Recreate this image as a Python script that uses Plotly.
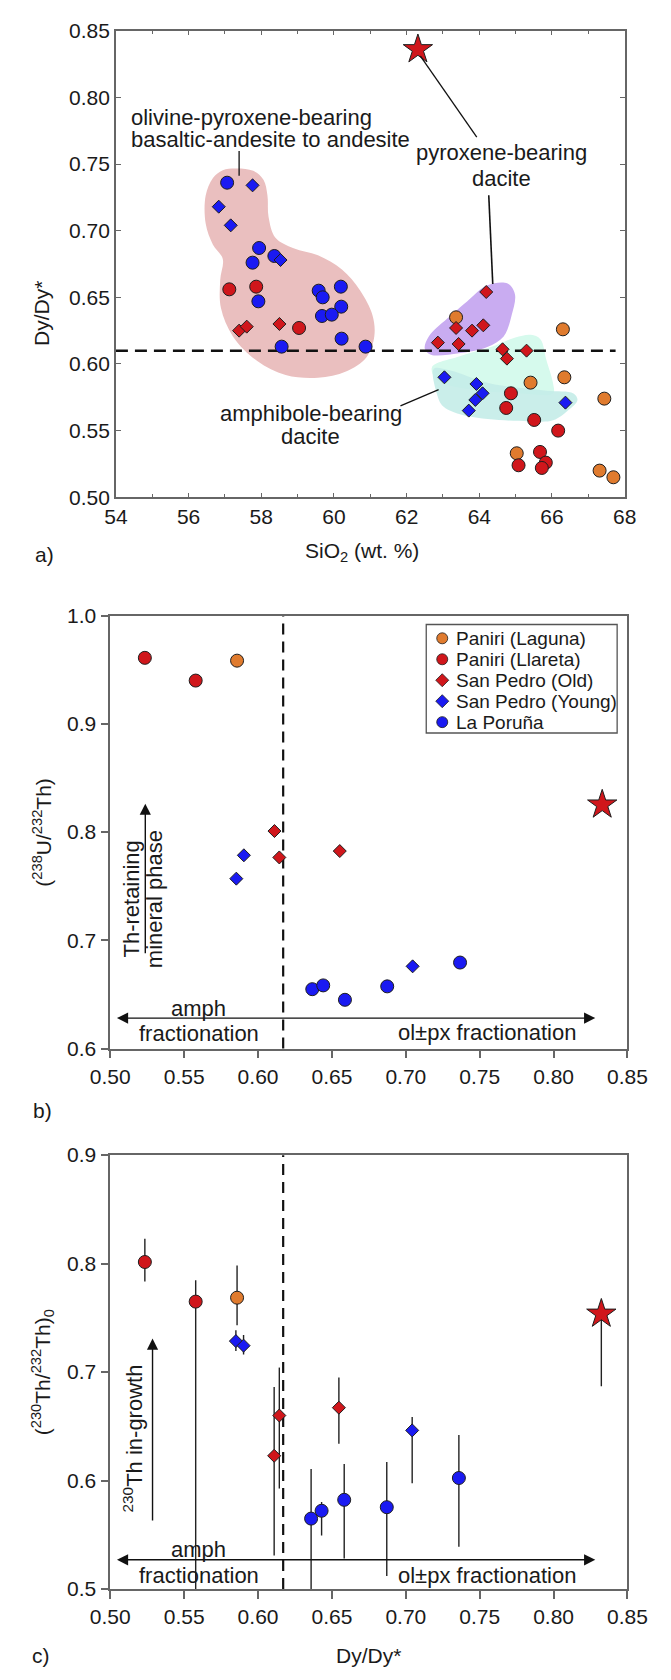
import plotly.graph_objects as go

W, H = 671, 1680
def fx(p): return p / W
def fy(p): return 1 - p / H

FONT = "Liberation Sans, Arial, sans-serif"
TXT = "#1a1a1a"

# ---------------- colours ----------------
C_ORANGE = "#e07b2e"
C_RED = "#d0161b"
C_BLUE = "#1a1af2"
EDGE = "#1e1e1e"

# ---------------- legend ----------------
legend_labels = ["Paniri (Laguna)", "Paniri (Llareta)", "San Pedro (Old)", "San Pedro (Young)", "La Poruña"]
legend_symbols = ["circle", "circle", "diamond", "diamond", "circle"]
legend_colors = [C_ORANGE, C_RED, C_RED, C_BLUE, C_BLUE]

# ---------------- panel a data (SiO2 vs Dy/Dy*) ----------------
laguna_a_x = [63.36, 66.30, 66.34, 65.41, 67.44, 65.03, 67.31, 67.69]
laguna_a_y = [0.635, 0.626, 0.590, 0.586, 0.574, 0.533, 0.520, 0.515]
llareta_a_x = [57.12, 57.86, 59.04, 64.87, 64.74, 65.51, 66.17, 65.67, 65.83, 65.08, 65.72]
llareta_a_y = [0.656, 0.658, 0.627, 0.578, 0.567, 0.558, 0.550, 0.534, 0.526, 0.524, 0.522]
spold_a_x = [57.39, 57.60, 58.50, 64.19, 63.36, 63.80, 64.11, 62.86, 63.43, 64.64, 64.76, 65.30]
spold_a_y = [0.625, 0.628, 0.630, 0.654, 0.627, 0.625, 0.629, 0.616, 0.615, 0.611, 0.604, 0.610]
spyoung_a_x = [57.76, 56.83, 57.16, 58.53, 63.04, 63.92, 64.09, 63.89, 63.71, 66.37]
spyoung_a_y = [0.734, 0.718, 0.704, 0.678, 0.590, 0.585, 0.578, 0.573, 0.565, 0.571]
poruna_a_x = [57.06, 57.94, 57.76, 58.36, 57.92, 59.58, 59.69, 60.19, 60.20, 59.67, 59.94, 60.21, 58.56, 60.87]
poruna_a_y = [0.736, 0.687, 0.676, 0.681, 0.647, 0.655, 0.650, 0.658, 0.643, 0.636, 0.637, 0.619, 0.613, 0.613]
star_a_x = [62.31]
star_a_y = [0.836]
dy_threshold_a = 0.61
dy_line_a_x = [54.0, 67.75]

# field outlines (SiO2, Dy/Dy*)
blob_ol_x = [57.33, 57.78, 58.06, 58.17, 58.20, 58.39, 58.89, 59.56, 60.22, 60.72, 61.06, 61.11, 60.89,
             60.33, 59.56, 58.67, 57.89, 57.22, 56.89, 56.87, 56.94, 56.67, 56.47, 56.47, 56.67, 56.94, 57.33]
blob_ol_y = [0.7467, 0.7449, 0.7383, 0.7264, 0.7105, 0.6947, 0.6868, 0.6815, 0.6709, 0.6551, 0.6366, 0.6207,
             0.6049, 0.5943, 0.5896, 0.5917, 0.6022, 0.6207, 0.6419, 0.6630, 0.6788, 0.6894, 0.7053, 0.7264,
             0.7396, 0.7454, 0.7467]
px_field_x = [62.50, 62.61, 63.11, 63.67, 64.22, 64.78, 64.98, 64.89, 64.67, 64.22, 63.44, 62.67, 62.50]
px_field_y = [0.6115, 0.6207, 0.6339, 0.6471, 0.6590, 0.6603, 0.6524, 0.6366, 0.6207, 0.6128, 0.6081, 0.6070, 0.6115]
amph1_x = [62.70, 63.44, 64.30, 64.99, 65.42, 65.68, 65.85, 66.03, 66.03, 65.16, 63.87, 62.83, 62.70]
amph1_y = [0.5977, 0.6056, 0.6125, 0.6199, 0.6219, 0.6186, 0.6026, 0.5853, 0.5779, 0.5779, 0.5804, 0.5878, 0.5977]
amph2_x = [62.75, 62.83, 63.01, 63.70, 65.34, 66.03, 66.46, 66.70, 66.59, 65.85, 64.30, 63.18, 62.75]
amph2_y = [0.5964, 0.5779, 0.5681, 0.5607, 0.5570, 0.5577, 0.5656, 0.5730, 0.5779, 0.5799, 0.5853, 0.5952, 0.5964]

# ---------------- panel b data (Dy/Dy* vs 238U/232Th) ----------------
laguna_b_x = [0.5858]
laguna_b_y = [0.9584]
llareta_b_x = [0.5234, 0.5578]
llareta_b_y = [0.961, 0.940]
spold_b_x = [0.6111, 0.6144, 0.6553]
spold_b_y = [0.801, 0.7766, 0.7825]
spyoung_b_x = [0.5853, 0.5904, 0.7046]
spyoung_b_y = [0.757, 0.7786, 0.676]
poruna_b_x = [0.6367, 0.6441, 0.6588, 0.6874, 0.7367]
poruna_b_y = [0.6549, 0.6584, 0.6451, 0.6575, 0.6795]
star_b_x = [0.8329]
star_b_y = [0.8253]
dy_threshold_bc = 0.617

# ---------------- panel c data (Dy/Dy* vs (230Th/232Th)0, with bounds) ----------------
laguna_c_x = [0.5858]
laguna_c_y = [0.7686]
laguna_c_hi = [0.7982]
laguna_c_lo = [0.7433]
llareta_c_x = [0.5234, 0.5578]
llareta_c_y = [0.8015, 0.765]
llareta_c_hi = [0.8229, 0.7846]
llareta_c_lo = [0.7836, 0.48]
spold_c_x = [0.6109, 0.6144, 0.6547]
spold_c_y = [0.6229, 0.660, 0.6672]
spold_c_hi = [0.6863, 0.7042, 0.6951]
spold_c_lo = [0.5309, 0.5927, 0.634]
spyoung_c_x = [0.585, 0.5902, 0.7043]
spyoung_c_y = [0.7286, 0.7244, 0.6463]
spyoung_c_hi = [0.7387, 0.7341, 0.6587]
spyoung_c_lo = [0.7195, 0.7163, 0.5976]
poruna_c_x = [0.6359, 0.643, 0.6583, 0.6871, 0.7359]
poruna_c_y = [0.565, 0.5722, 0.5823, 0.5755, 0.6024]
poruna_c_hi = [0.6106, 0.5803, 0.6154, 0.6171, 0.6421]
poruna_c_lo = [0.48, 0.5494, 0.5283, 0.512, 0.539]
star_c_x = [0.8323]
star_c_y = [0.7537]
star_c_hi = [0.765]
star_c_lo = [0.687]

S_CIRC, S_DIAM, S_STAR = 13, 10, 22

fig = go.Figure()

def mk(symbol, color, size):
    return dict(symbol=symbol, color=color, size=size, line=dict(color=EDGE, width=1))

# ---- panel a fields ----
def field(xs, ys, color):
    fig.add_trace(go.Scatter(x=xs, y=ys, mode="lines", fill="toself", fillcolor=color,
                             line=dict(width=0, shape="spline", smoothing=1.0),
                             hoverinfo="skip", showlegend=False, xaxis="x", yaxis="y"))

field(blob_ol_x, blob_ol_y, "rgb(234,191,191)")
field(px_field_x, px_field_y, "rgb(201,172,241)")
field(amph1_x, amph1_y, "rgb(214,250,237)")
field(amph2_x, amph2_y, "rgba(196,236,232,0.9)")

fig.add_trace(go.Scatter(x=dy_line_a_x, y=[dy_threshold_a] * 2, mode="lines",
                         line=dict(color="#111", width=2.5, dash="12px,7px"),
                         hoverinfo="skip", showlegend=False, xaxis="x", yaxis="y"))

# ---- markers, all panels ----
def series(xs, ys, symbol, color, size, ax, err=None):
    kw = {}
    if err is not None:
        hi, lo = err
        kw["error_y"] = dict(type="data", symmetric=False,
                             array=[h - v for h, v in zip(hi, ys)],
                             arrayminus=[v - l for v, l in zip(ys, lo)],
                             color="#222", thickness=1.4, width=0)
    fig.add_trace(go.Scatter(x=xs, y=ys, mode="markers", marker=mk(symbol, color, size),
                             showlegend=False, xaxis="x" + ax, yaxis="y" + ax, **kw))

# panel a
series(laguna_a_x, laguna_a_y, "circle", C_ORANGE, S_CIRC, "")
series(llareta_a_x, llareta_a_y, "circle", C_RED, S_CIRC, "")
series(poruna_a_x, poruna_a_y, "circle", C_BLUE, S_CIRC, "")
series(spold_a_x, spold_a_y, "diamond", C_RED, S_DIAM, "")
series(spyoung_a_x, spyoung_a_y, "diamond", C_BLUE, S_DIAM, "")
series(star_a_x, star_a_y, "star", C_RED, S_STAR, "")

# panel b
series(laguna_b_x, laguna_b_y, "circle", C_ORANGE, S_CIRC, "2")
series(llareta_b_x, llareta_b_y, "circle", C_RED, S_CIRC, "2")
series(poruna_b_x, poruna_b_y, "circle", C_BLUE, S_CIRC, "2")
series(spold_b_x, spold_b_y, "diamond", C_RED, S_DIAM, "2")
series(spyoung_b_x, spyoung_b_y, "diamond", C_BLUE, S_DIAM, "2")
series(star_b_x, star_b_y, "star", C_RED, S_STAR, "2")

# panel c
series(laguna_c_x, laguna_c_y, "circle", C_ORANGE, S_CIRC, "3", err=(laguna_c_hi, laguna_c_lo))
series(llareta_c_x, llareta_c_y, "circle", C_RED, S_CIRC, "3", err=(llareta_c_hi, llareta_c_lo))
series(poruna_c_x, poruna_c_y, "circle", C_BLUE, S_CIRC, "3", err=(poruna_c_hi, poruna_c_lo))
series(spold_c_x, spold_c_y, "diamond", C_RED, S_DIAM, "3", err=(spold_c_hi, spold_c_lo))
series(spyoung_c_x, spyoung_c_y, "diamond", C_BLUE, S_DIAM, "3", err=(spyoung_c_hi, spyoung_c_lo))
series(star_c_x, star_c_y, "star", C_RED, S_STAR, "3", err=(star_c_hi, star_c_lo))

# ---- legend (panel b), drawn in its own pixel-scaled box ----
LEG_L, LEG_R, LEG_T, LEG_B = 432, 635, 621, 731
LEG_ROW0, LEG_DROW, LEG_SYM_X, LEG_TXT_X = 14, 21.25, 17, 29.5
leg_rows = [LEG_ROW0 + i * LEG_DROW for i in range(len(legend_labels))]
for lab, sym, col, ry in zip(legend_labels, legend_symbols, legend_colors, leg_rows):
    fig.add_trace(go.Scatter(x=[LEG_SYM_X], y=[ry], mode="markers",
                             marker=dict(symbol=sym, color=col, size=11 if sym == "circle" else 10,
                                         line=dict(color=EDGE, width=0.8)),
                             showlegend=False, hoverinfo="skip", xaxis="x4", yaxis="y4"))

# ---------------- axes ----------------
FRAME = "#666666"
tickfont = dict(family=FONT, size=21, color=TXT)

axa = dict(showline=True, linecolor=FRAME, linewidth=1.5, mirror="allticks", ticks="inside",
           ticklen=5, tickcolor=FRAME, showgrid=False, zeroline=False, tickfont=tickfont)
axbc = dict(showline=True, linecolor=FRAME, linewidth=1.5, mirror=True, ticks="outside",
            ticklen=8, tickcolor=FRAME, tickwidth=1.5, showgrid=False, zeroline=False, tickfont=tickfont)

layout = dict(
    width=W, height=H, margin=dict(l=0, r=0, t=0, b=0),
    paper_bgcolor="white", plot_bgcolor="white", showlegend=False,
    font=dict(family=FONT, color=TXT, size=21),
    xaxis=dict(axa, domain=[fx(102), fx(643)], range=[54, 68], anchor="y",
               tickmode="array", tickvals=[54, 56, 58, 60, 62, 64, 66, 68],
               minor=dict(ticks="inside", ticklen=4, dtick=1, tick0=54, tickcolor=FRAME, showgrid=False)),
    yaxis=dict(axa, domain=[fy(492), fy(19)], range=[0.5, 0.85], anchor="x",
               dtick=0.05, tick0=0.5, tickformat=".2f"),
    xaxis2=dict(axbc, domain=[fx(96), fx(646)], range=[0.5, 0.85], anchor="y2",
                dtick=0.05, tick0=0.5, tickformat=".2f"),
    yaxis2=dict(axbc, domain=[fy(1051), fy(612)], range=[0.6, 1.0], anchor="x2",
                dtick=0.1, tick0=0.6, tickformat=".1f"),
    xaxis3=dict(axbc, domain=[fx(96), fx(646)], range=[0.5, 0.85], anchor="y3",
                dtick=0.05, tick0=0.5, tickformat=".2f"),
    yaxis3=dict(axbc, domain=[fy(1599), fy(1159)], range=[0.5, 0.9], anchor="x3",
                dtick=0.1, tick0=0.5, tickformat=".1f"),
    xaxis4=dict(domain=[fx(LEG_L), fx(LEG_R)], range=[0, LEG_R - LEG_L], anchor="y4",
                visible=False, fixedrange=True),
    yaxis4=dict(domain=[fy(LEG_B), fy(LEG_T)], range=[LEG_B - LEG_T, 0], anchor="x4",
                visible=False, fixedrange=True),
)
fig.update_layout(**layout)

# ---------------- shapes ----------------
shapes = []
def seg(x0, y0, x1, y1, ax, width=1.3, dash=None, color="#111"):
    shapes.append(dict(type="line", xref="x" + ax, yref="y" + ax, x0=x0, y0=y0, x1=x1, y1=y1,
                       line=dict(color=color, width=width, dash=dash), layer="above"))

seg(57.39, 0.7597, 57.39, 0.7412, "")
seg(62.38, 0.831, 63.93, 0.7701, "")
seg(64.26, 0.7266, 64.37, 0.660, "", width=1.6)
seg(61.83, 0.5686, 62.88, 0.5807, "")
for ax in ("2", "3"):
    shapes.append(dict(type="line", xref="x" + ax, yref="y" + ax + " domain",
                       x0=dy_threshold_bc, x1=dy_threshold_bc, y0=0, y1=1,
                       line=dict(color="#111", width=2.2, dash="11px,7px"), layer="below"))
shapes.append(dict(type="rect", xref="paper", yref="paper",
                   x0=fx(LEG_L), x1=fx(LEG_R), y0=fy(LEG_B), y1=fy(LEG_T),
                   line=dict(color="#555", width=1.3), fillcolor="rgba(0,0,0,0)", layer="above"))
fig.update_layout(shapes=shapes)

# ---------------- annotations ----------------
ann = []
def txt(x, y, s, ax, size=22, angle=0, xanchor="center", xref=None, yref=None):
    ann.append(dict(x=x, y=y, text=s, showarrow=False, textangle=angle, xanchor=xanchor,
                    yanchor="middle", xref=xref or ("x" + ax), yref=yref or ("y" + ax),
                    font=dict(family=FONT, size=size, color=TXT)))

def arrow(x0, y0, x1, y1, ax, both=False):
    ann.append(dict(x=x1, y=y1, ax=x0, ay=y0, xref="x" + ax, yref="y" + ax,
                    axref="x" + ax, ayref="y" + ax, text="", showarrow=True,
                    arrowhead=2, arrowsize=1.6, arrowwidth=1.4, arrowcolor="#111",
                    arrowside="end+start" if both else "end", standoff=0, startstandoff=0))

# legend text
for lab, ry in zip(legend_labels, leg_rows):
    txt(LEG_TXT_X, ry, lab, "4", size=19, xanchor="left")

# panel a
txt(54.37, 0.7849, "olivine-pyroxene-bearing", "", size=22, xanchor="left")
txt(54.37, 0.7684, "basaltic-andesite to andesite", "", size=22, xanchor="left")
txt(64.60, 0.7585, "pyroxene-bearing", "", size=22)
txt(64.60, 0.7395, "dacite", "", size=22)
txt(59.36, 0.5629, "amphibole-bearing", "", size=22)
txt(59.36, 0.5456, "dacite", "", size=22)

# panel b
txt(0.5146, 0.7385, "Th-retaining", "2", angle=-90)
txt(0.5299, 0.7385, "mineral phase", "2", angle=-90)
arrow(0.5237, 0.6867, 0.5237, 0.8263, "2")
arrow(0.5035, 0.6282, 0.8282, 0.6282, "2", both=True)
txt(0.5599, 0.6373, "amph", "2")
txt(0.5599, 0.6136, "fractionation", "2")
txt(0.7547, 0.6146, "ol±px fractionation", "2")

# panel c
txt(0.5151, 0.6384, "<sup>230</sup>Th in-growth", "3", angle=-90)
arrow(0.5286, 0.5618, 0.5286, 0.7309, "3")
arrow(0.5035, 0.527, 0.8282, 0.527, "3", both=True)
txt(0.5599, 0.5364, "amph", "3")
txt(0.5599, 0.5124, "fractionation", "3")
txt(0.7547, 0.513, "ol±px fractionation", "3")

# axis titles and panel letters (paper coords)
P = dict(xref="paper", yref="paper")
txt(fx(23.5), fy(306), "Dy/Dy*", "", size=21, angle=-90, **P)
txt(fx(364), fy(548), "SiO<sub>2</sub> (wt. %)", "", size=21, **P)
txt(fx(26), fy(550), "a)", "", size=21, **P)
txt(fx(23.5), fy(832), "(<sup>238</sup>U/<sup>232</sup>Th)", "", size=21, angle=-90, **P)
txt(fx(24), fy(1114), "b)", "", size=21, **P)
txt(fx(23.5), fy(1379), "(<sup>230</sup>Th/<sup>232</sup>Th)<sub>0</sub>", "", size=21, angle=-90, **P)
txt(fx(371), fy(1666), "Dy/Dy*", "", size=21, **P)
txt(fx(22), fy(1666), "c)", "", size=21, **P)

fig.update_layout(annotations=ann)

fig.write_html("out.html")
